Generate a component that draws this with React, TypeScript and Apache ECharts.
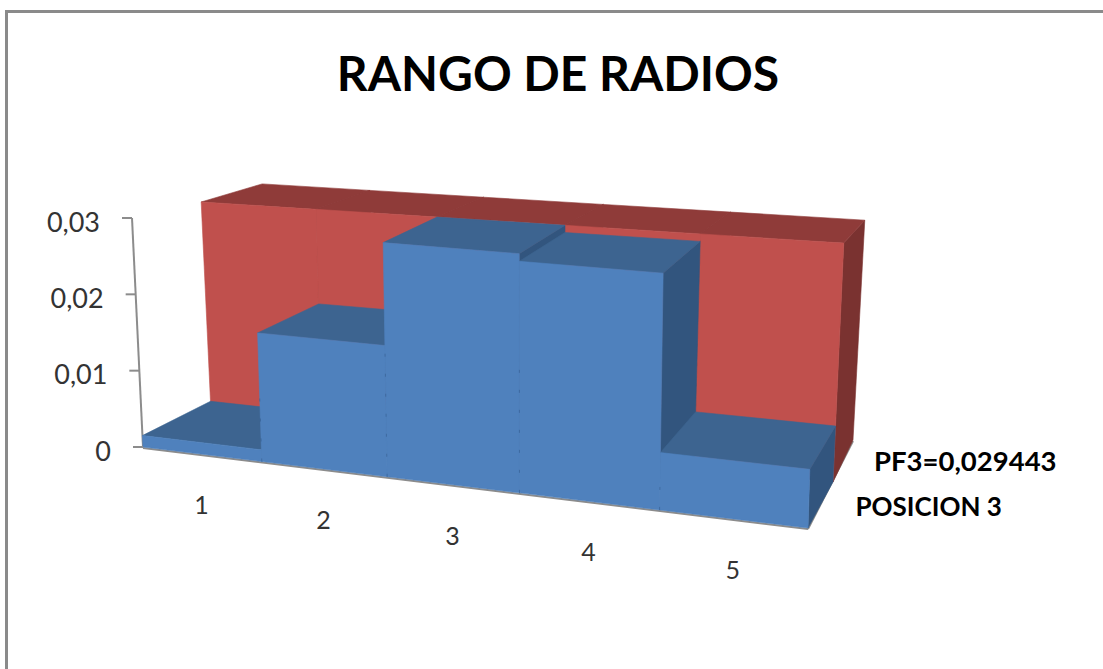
import React, { useEffect, useRef } from "react";
import * as echarts from "echarts";

const categories = ["1", "2", "3", "4", "5"];
const posicion3 = [0.0015, 0.0165, 0.029443, 0.0285, 0.0069];
const pf3 = [0.029443, 0.029443, 0.029443, 0.029443, 0.029443];
const yTicks = [0, 0.01, 0.02, 0.03];
const yTickLabels = ["0", "0,01", "0,02", "0,03"];
const depthLabels = ["POSICION 3", "PF3=0,029443"];
const depthLabelSizes = [26, 27.5];
const depthLabelOffsets = [35, 31];
const depthLabelLifts = [1, -1];

type Pt = [number, number];
// Projection of the 3D box: one plane per depth step (floor-left, floor-right, top-left, top-right)
const PLANES: Pt[][] = [
  [[143, 447], [808, 528], [132, 218], [816, 273]],
  [[211, 412], [833, 482], [201, 198], [844, 238.6]],
  [[272, 390], [853, 440], [262, 180], [865, 216]],
];
const PERSPECTIVE = -0.13;
const FONT = "Lato";

const mix = (a: number, b: number, t: number) => a + (b - a) * t;
const mixPt = (a: Pt, b: Pt, t: number): Pt => [mix(a[0], b[0], t), mix(a[1], b[1], t)];

function project(p: number[], cs: any, d: number): Pt {
  const U = (p[0] - cs.x) / cs.width;
  const V = (cs.y + cs.height - p[1]) / cs.height;
  const t = (U * (1 + PERSPECTIVE)) / (1 + PERSPECTIVE * U);
  const onPlane = (pl: Pt[]) => mixPt(mixPt(pl[0], pl[1], t), mixPt(pl[2], pl[3], t), V);
  const lo = Math.min(Math.floor(d), PLANES.length - 2);
  return mixPt(onPlane(PLANES[lo]), onPlane(PLANES[lo + 1]), d - lo);
}

const boxSeries = (
  name: string,
  values: number[],
  d0: number,
  colors: { front: string; top: string; side: string },
  dots: string
) => ({
  type: "custom",
  name,
  silent: true,
  clip: false,
  data: values.map((v, i) => [i, v]),
  renderItem: (params: any, api: any) => {
    const cs = params.coordSys;
    const i = api.value(0);
    const v = api.value(1);
    const a = api.coord([i, 0]);
    const b = api.coord([i + 1, 0]);
    const c = api.coord([i + 1, v]);
    const e = api.coord([i, v]);
    const f = (p: number[]) => project(p, cs, d0);
    const g = (p: number[]) => project(p, cs, d0 + 1);
    const poly = (points: Pt[], fill: string) => ({
      type: "polygon",
      shape: { points },
      style: { fill, stroke: fill, lineWidth: 0.6 },
    });
    const children: any[] = [
      poly([g(b), g(c), f(c), f(b)], colors.side),
      poly([f(e), g(e), g(c), f(c)], colors.top),
      poly([f(a), f(b), f(c), f(e)], colors.front),
    ];
    if (i > 0) {
      const p0 = f(a);
      const p1 = f(e);
      children.push({
        type: "line",
        shape: { x1: p0[0], y1: p0[1], x2: mix(p0[0], p1[0], 0.55), y2: mix(p0[1], p1[1], 0.55) },
        style: { stroke: dots, lineWidth: 1, lineDash: [3, 17] },
      });
    }
    return { type: "group", children };
  },
});

export default function App() {
  const ref = useRef<HTMLDivElement>(null);
  useEffect(() => {
    const chart = echarts.init(ref.current!, null, { renderer: "svg" });
    chart.setOption({
      animation: false,
      backgroundColor: "#ffffff",
      title: {
        text: "RANGO DE RADIOS",
        left: 553,
        top: 43,
        textAlign: "center",
        textStyle: { fontFamily: FONT, fontWeight: "bold", fontSize: 48, color: "#000000" },
      },
      graphic: [
        { type: "rect", shape: { x: 5, y: 10, width: 1098, height: 3 }, style: { fill: "#8a8a8a" } },
        { type: "rect", shape: { x: 5, y: 10, width: 3, height: 659 }, style: { fill: "#8a8a8a" } },
      ],
      grid: { left: 143, top: 218, width: 665, height: 229 },
      xAxis: { type: "value", min: 0, max: 5, show: false },
      yAxis: { type: "value", min: 0, max: 0.03, interval: 0.01, show: false },
      series: [
        {
          type: "custom",
          name: "floor",
          silent: true,
          clip: false,
          z: 1,
          data: [[0, 0]],
          renderItem: (params: any, api: any) => {
            const cs = params.coordSys;
            const o = project(api.coord([0, 0]), cs, 0);
            const r = project(api.coord([5, 0]), cs, 0);
            const rb = project(api.coord([5, 0]), cs, 2);
            const top = project(api.coord([0, 0.03]), cs, 0);
            const line = (p: Pt, q: Pt, dy: number) => ({
              type: "line",
              shape: { x1: p[0], y1: p[1] + dy, x2: q[0], y2: q[1] + dy },
              style: { stroke: "#8c8c8c", lineWidth: 2 },
            });
            return {
              type: "group",
              children: [line(o, r, 1), line(r, rb, 1), line(o, top, 0)],
            };
          },
        },
        boxSeries("PF3=0,029443", pf3, 1, { front: "#c0504d", top: "#8f3b39", side: "#7a3230" }, "rgba(150,60,58,0.45)"),
        boxSeries("POSICION 3", posicion3, 0, { front: "#4f81bd", top: "#3d6490", side: "#32557e" }, "rgba(50,90,140,0.55)"),
        {
          type: "custom",
          name: "yTicks",
          silent: true,
          clip: false,
          data: yTicks.map((v) => [0, v]),
          renderItem: (params: any, api: any) => {
            const p = project(api.coord([0, api.value(1)]), params.coordSys, 0);
            return {
              type: "group",
              children: [
                {
                  type: "line",
                  shape: { x1: p[0] - 10, y1: p[1], x2: p[0], y2: p[1] },
                  style: { stroke: "#8c8c8c", lineWidth: 2 },
                },
                {
                  type: "text",
                  x: p[0] - 32,
                  y: p[1] + 3,
                  style: {
                    text: yTickLabels[params.dataIndex],
                    font: `27px ${FONT}`,
                    fill: "#333333",
                    align: "right",
                    verticalAlign: "middle",
                  },
                },
              ],
            };
          },
        },
        {
          type: "custom",
          name: "xLabels",
          silent: true,
          clip: false,
          data: categories.map((_, i) => [i + 0.5, 0]),
          renderItem: (params: any, api: any) => {
            const p = project(api.coord([api.value(0), 0]), params.coordSys, 0);
            return {
              type: "text",
              x: p[0],
              y: p[1] + 50,
              style: {
                text: categories[params.dataIndex],
                font: `25px ${FONT}`,
                fill: "#333333",
                align: "center",
                verticalAlign: "middle",
              },
            };
          },
        },
        {
          type: "custom",
          name: "depthLabels",
          silent: true,
          clip: false,
          data: depthLabels.map(() => [5, 0]),
          renderItem: (params: any, api: any) => {
            const i = params.dataIndex;
            const p = project(api.coord([5, 0]), params.coordSys, i + 0.5);
            return {
              type: "text",
              x: p[0] + depthLabelOffsets[i],
              y: p[1] + depthLabelLifts[i],
              style: {
                text: depthLabels[i],
                font: `bold ${depthLabelSizes[i]}px ${FONT}`,
                fill: "#000000",
                align: "left",
                verticalAlign: "middle",
              },
            };
          },
        },
      ],
    });
    return () => chart.dispose();
  }, []);
  return (
    <div
      ref={ref}
      style={{ position: "absolute", left: 0, top: 0, width: 1103, height: 669 }}
    />
  );
}
